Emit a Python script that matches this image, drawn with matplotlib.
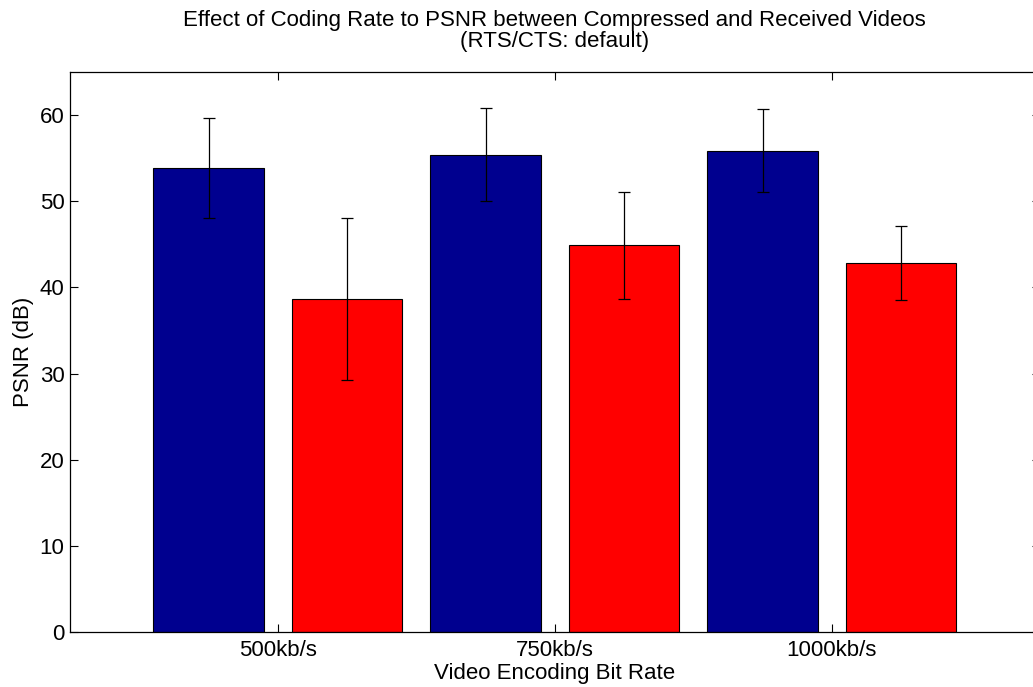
import numpy as np
import matplotlib.pyplot as plt

plt.rcParams['font.family'] = ['Liberation Sans', 'DejaVu Sans']

rates = ["500kb/s", "750kb/s", "1000kb/s"]
psnr_compressed = [53.9, 55.4, 55.9]
err_compressed = [5.8, 5.4, 4.85]
psnr_received = [38.7, 44.9, 42.8]
err_received = [9.4, 6.2, 4.3]

fig = plt.figure(figsize=(10.33, 6.87), dpi=100)
ax = fig.add_axes([0.0678, 0.080, 0.9385, 0.815])

x = np.arange(1, len(rates) + 1)
ax.bar(x - 0.25, psnr_compressed, 0.4, color="#00008f", edgecolor="black", linewidth=0.8)
ax.bar(x + 0.25, psnr_received, 0.4, color="#ff0000", edgecolor="black", linewidth=0.8)
ax.errorbar(x - 0.25, psnr_compressed, yerr=err_compressed, fmt="none",
            ecolor="black", elinewidth=0.9, capsize=4, capthick=0.9)
ax.errorbar(x + 0.25, psnr_received, yerr=err_received, fmt="none",
            ecolor="black", elinewidth=0.9, capsize=4, capthick=0.9)

ax.set_xlim(0.25, 3.75)
ax.set_ylim(0, 65)
ax.set_xticks(x)
ax.set_xticklabels(rates)
ax.set_yticks(range(0, 61, 10))
ax.tick_params(axis="both", direction="in", length=6, width=0.8, top=True, right=True, labelsize=16)
ax.tick_params(axis="x", pad=6)
ax.tick_params(axis="y", pad=4)
for s in ax.spines.values():
    s.set_linewidth(0.9)

ax.set_xlabel("Video Encoding Bit Rate", fontsize=16, labelpad=1)
ax.set_ylabel("PSNR (dB)", fontsize=16, labelpad=4)
ax.set_title("Effect of Coding Rate to PSNR between Compressed and Received Videos\n(RTS/CTS: default)",
             fontsize=16, pad=18, linespacing=1.0)

fig.savefig("out.png", dpi=100)
